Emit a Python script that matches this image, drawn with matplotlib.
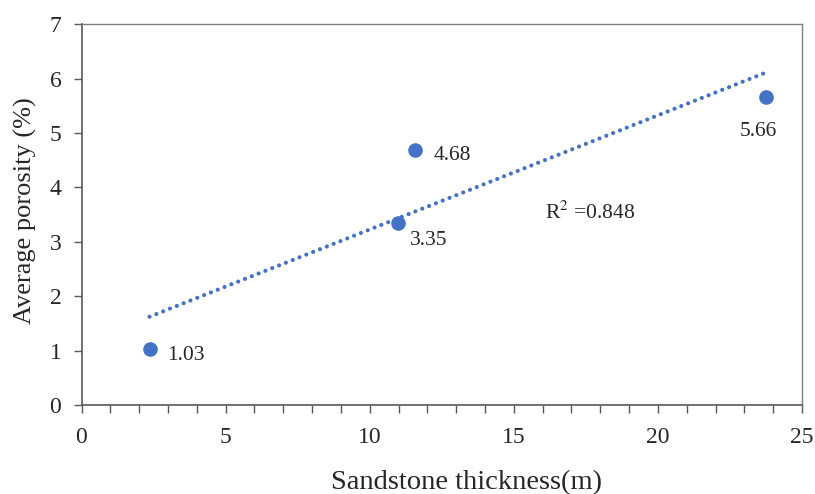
import numpy as np
import matplotlib.pyplot as plt
from matplotlib.ticker import MultipleLocator

plt.rcParams['font.family'] = ['Liberation Serif', 'DejaVu Serif']
plt.rcParams['mathtext.fontset'] = 'stix'

# data
thickness = [2.36, 10.97, 11.56, 23.75]
porosity = [1.03, 3.35, 4.68, 5.66]
labels = ['1.03', '3.35', '4.68', '5.66']
r2_text = 'R$^{2}$ =0.848'

fig, ax = plt.subplots(figsize=(8.15, 4.94), dpi=100)
fig.subplots_adjust(left=0.1, right=0.984, top=0.951, bottom=0.18)

# linear trend line, dotted
slope, intercept = np.polyfit(thickness, porosity, 1)
xs = np.array([min(thickness), max(thickness)])
ax.plot(xs, slope * xs + intercept, color='#4472C4', lw=3.0,
        linestyle=(0, (0.01, 1.75)), dash_capstyle='round', zorder=2)

ax.scatter(thickness, porosity, s=90, color='#4472C4', zorder=3)

# value labels
offsets = [(13, -8), (9, -16), (14, -7), (-19, -28)]
for x, y, t, off in zip(thickness, porosity, labels, offsets):
    ax.annotate(t, (x, y), xytext=off, textcoords='offset points',
                fontsize=15.5, color='#262626')

ax.text(16.1, 3.53, r2_text, fontsize=15.5, color='#262626',
        ha='left', va='center')

ax.set_xlim(0, 25)
ax.set_ylim(0, 7)
ax.xaxis.set_major_locator(MultipleLocator(5))
ax.xaxis.set_minor_locator(MultipleLocator(1))
ax.yaxis.set_major_locator(MultipleLocator(1))
ax.tick_params(axis='both', which='both', direction='out', length=5.5,
               width=1, color='#595959', labelsize=17, labelcolor='#262626')
ax.tick_params(axis='x', pad=10)
ax.tick_params(axis='y', pad=9)

for side in ['left', 'bottom']:
    ax.spines[side].set_color('#595959')
    ax.spines[side].set_linewidth(1.2)
for side in ['top', 'right']:
    ax.spines[side].set_color('#808080')
    ax.spines[side].set_linewidth(1.0)

ax.set_xlabel('Sandstone thickness(m)', fontsize=20.5, color='#262626')
ax.xaxis.set_label_coords(0.535, -0.17)
ax.set_ylabel('Average porosity (%)', fontsize=19, color='#262626')
ax.yaxis.set_label_coords(-0.062, 0.51)

fig.savefig('out.png', dpi=100)
